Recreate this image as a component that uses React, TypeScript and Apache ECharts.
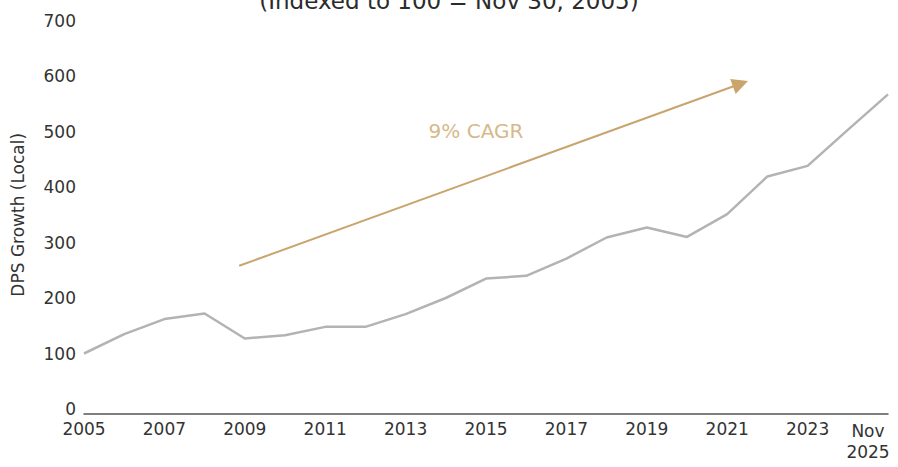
import React, { useEffect, useRef } from "react";
import * as echarts from "echarts";

// Dividend-per-share index, Nov 30 2005 = 100
const BASE_YEAR = 2005;
const years = [
  2005, 2006, 2007, 2008, 2009, 2010, 2011, 2012, 2013, 2014, 2015,
  2016, 2017, 2018, 2019, 2020, 2021, 2022, 2023, 2024, 2025,
];
const dpsIndex = [
  100, 135, 162, 172, 127, 133, 148, 148, 171, 200, 235,
  240, 271, 309, 327, 310, 351, 419, 438, 503, 567,
];
const yTicks = { min: 0, max: 700, step: 100 };
// Trend arrow endpoints: [years since 2005, index level]
const trendStart = [3.86, 258];
const trendEnd = [16.33, 586];
const trendLabel = "9% CAGR";
const titleText = "(Indexed to 100 = Nov 30, 2005)";
const yAxisTitle = "DPS Growth (Local)";

const FONT = "DejaVu Sans";

export default function App() {
  const ref = useRef<HTMLDivElement>(null);

  useEffect(() => {
    document.body.style.margin = "0";
    if (!ref.current) return;
    const chart = echarts.init(ref.current, null, { renderer: "svg" });
    const lastYear = years[years.length - 1];

    chart.setOption({
      animation: false,
      backgroundColor: "#ffffff",
      grid: {
        left: 84,
        right: 10,
        top: 20.5,
        bottom: 58,
        containLabel: false,
        outerBoundsMode: "none",
      },
      graphic: [
        {
          type: "text",
          left: "center",
          y: 1,
          style: {
            text: titleText,
            font: `23px "${FONT}"`,
            fill: "#2b2b2b",
            verticalAlign: "middle",
          },
        },
        {
          type: "text",
          x: 476,
          y: 131,
          style: {
            text: trendLabel,
            font: `20px "${FONT}"`,
            fill: "#d6b98a",
            align: "center",
            verticalAlign: "middle",
          },
        },
      ],
      xAxis: {
        type: "value",
        min: 0,
        max: lastYear - BASE_YEAR,
        interval: 2,
        offset: 5,
        splitLine: { show: false },
        axisTick: { show: false },
        axisLine: {
          show: true,
          onZero: false,
          lineStyle: { color: "#555555", width: 1.5 },
        },
        axisLabel: {
          color: "#333333",
          fontFamily: FONT,
          fontSize: 17,
          margin: 6,
          formatter: (v: number) => {
            const yr = v + BASE_YEAR;
            if (yr === lastYear) return `{last|Nov}\n{last|${yr}}`;
            return String(yr);
          },
          rich: {
            last: {
              color: "#333333",
              fontFamily: FONT,
              fontSize: 17,
              lineHeight: 21,
              padding: [0, 40, 0, 0],
            },
          },
        },
      },
      yAxis: {
        type: "value",
        min: yTicks.min,
        max: yTicks.max,
        interval: yTicks.step,
        name: yAxisTitle,
        nameLocation: "middle",
        nameGap: 58,
        nameTextStyle: { color: "#333333", fontFamily: FONT, fontSize: 17 },
        splitLine: { show: false },
        axisTick: { show: false },
        axisLine: { show: false },
        axisLabel: { color: "#333333", fontFamily: FONT, fontSize: 17, margin: 8 },
      },
      series: [
        {
          type: "line",
          data: years.map((y, i) => [y - BASE_YEAR, dpsIndex[i]]),
          symbol: "none",
          lineStyle: { color: "#b3b3b3", width: 2.5 },
          silent: true,
          markLine: {
            silent: true,
            symbol: ["none", "triangle"],
            symbolSize: 16,
            label: { show: false },
            itemStyle: { color: "#c9a56d" },
            lineStyle: { color: "#c9a56d", width: 2, type: "solid" },
            data: [[{ coord: trendStart }, { coord: trendEnd }]],
          },
        },
      ],
    });

    return () => chart.dispose();
  }, []);

  return <div ref={ref} style={{ width: 898, height: 467 }} />;
}
